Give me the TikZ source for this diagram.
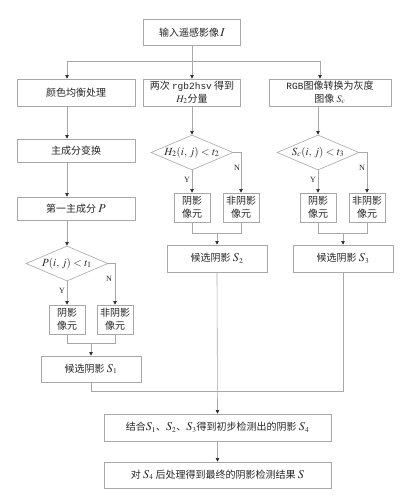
\documentclass[tikz,border=0pt]{standalone}
\usepackage{mathptmx}
\usepackage{fontspec}
\setmainfont{Liberation Serif}
\newfontfamily\cjk{Noto Sans CJK SC}
\setmonofont{Liberation Mono}
\usetikzlibrary{arrows.meta,shapes.geometric}
\definecolor{linegray}{HTML}{A8A8A8}
\definecolor{txt}{HTML}{262626}
\begin{document}
\begin{tikzpicture}[x=1pt,y=-1pt,
  line/.style={draw=linegray, line width=0.6pt},
  arr/.style={line, -{Triangle[width=3.4pt,length=3.6pt,fill=txt,color=txt]}},
  box/.style={draw=linegray, line width=0.6pt, inner sep=0pt, font=\cjk\fontsize{10}{13}\selectfont, text=txt, align=center},
  small/.style={box, minimum width=36pt, minimum height=29pt},
  dia/.style={diamond, draw=linegray, line width=0.6pt, inner sep=0pt, minimum width=82pt, minimum height=35pt, aspect=2.34},
  yn/.style={font=\fontsize{8}{9}\selectfont, text=txt, inner sep=0pt},
  dtext/.style={font=\fontsize{11}{12}\selectfont, text=txt, inner sep=0pt}
]
\useasboundingbox[fill=white] (0,0) rectangle (405,495);

% nodes
\node[box, minimum width=97pt, minimum height=26pt] (top) at (192,32.5) {输入遥感影像$\,\mbox{\large$I$}$};
\node[box, minimum width=118pt, minimum height=27pt] (bA) at (76,92.5) {颜色均衡处理};
\node[box, minimum width=97pt, minimum height=27pt] (bB) at (192,92.5) {两次 {\ttfamily\fontsize{9.5}{12}\selectfont rgb2hsv} 得到\\$H_2$分量};
\node[box, minimum width=122pt, minimum height=27pt] (bC) at (330,92.5) {{\ttfamily\fontsize{9.5}{12}\selectfont RGB}图像转换为灰度\\图像 $S_c$};
\node[box, minimum width=118pt, minimum height=23pt] (pca) at (76,150.5) {主成分变换};
\node[box, minimum width=118pt, minimum height=23pt] (pc1) at (76,208.5) {第一主成分 $\mbox{\large$P$}$};

\node[dia] (dA) at (67,263.5) {};
\node[dtext] (dAt) at (67,263.5) {$P(i,\,j)<t_1$};
\node[dia] (dB) at (192,152.5) {};
\node[dtext] (dBt) at (192,152.5) {$H_2(i,\,j)<t_2$};
\node[dia] (dC) at (318,152.5) {};
\node[dtext] (dCt) at (318,152.5) {$S_c(i,\,j)<t_3$};

\node[small] (sAy) at (67,319.5) {阴影\\像元};
\node[small] (sAn) at (115,319.5) {非阴影\\像元};
\node[small] (sBy) at (192,207.5) {阴影\\像元};
\node[small] (sBn) at (241,207.5) {非阴影\\像元};
\node[small] (sCy) at (318,207.5) {阴影\\像元};
\node[small] (sCn) at (367,207.5) {非阴影\\像元};

\node[box, minimum width=100pt, minimum height=26pt] (cA) at (91,369) {候选阴影 $\mbox{\large$S$}_1$};
\node[box, minimum width=100pt, minimum height=27pt] (cB) at (217,258.5) {候选阴影 $\mbox{\large$S$}_2$};
\node[box, minimum width=100pt, minimum height=27pt] (cC) at (343,258.5) {候选阴影 $\mbox{\large$S$}_3$};
\node[box, minimum width=227pt, minimum height=27pt] (comb) at (217.5,427.5) {结合$\mbox{\large$S$}_1$、$\mbox{\large$S$}_2$、$\mbox{\large$S$}_3$得到初步检测出的阴影 $\mbox{\large$S$}_4$};
\node[box, minimum width=227pt, minimum height=26pt] (final) at (217.5,475) {对 $\mbox{\large$S$}_4$ 后处理得到最终的阴影检测结果 $\mbox{\large$S$}$};

% Y / N labels
\node[yn] (yA) at (62,291) {Y};
\node[yn] (nA) at (109,279) {N};
\node[yn] (yB) at (187,180) {Y};
\node[yn] (nB) at (237,168) {N};
\node[yn] (yC) at (313,180) {Y};
\node[yn] (nC) at (362,168) {N};

% junction coordinates
\coordinate (j0) at (192,61);
\coordinate (jA) at (67,61);
\coordinate (jC) at (320,61);
\coordinate (mA) at (91,343);
\coordinate (mB) at (217,233);
\coordinate (mC) at (343,233);
\coordinate (mD) at (217,391);

% connectors
\draw[line] (top.south) -- (j0);
\draw[line] (jA) -- (jC);
\draw[arr] (jA) -- (bA.north -| jA);
\draw[arr] (j0) -- (bB.north);
\draw[arr] (jC) -- (bC.north -| jC);

\draw[arr] (bA.south -| dA.center) -- (pca.north -| dA.center);
\draw[arr] (pca.south -| dA.center) -- (pc1.north -| dA.center);
\draw[arr] (pc1.south -| dA.center) -- (dA.north);
\draw[arr] (bB.south) -- (dB.north);
\draw[arr] (bC.south -| dC.center) -- (dC.north);

\draw[arr] (dA.south) -- (sAy.north);
\draw[arr] (dA.east) -- (dA.east -| sAn.center) -- (sAn.north);
\draw[arr] (dB.south) -- (sBy.north);
\draw[arr] (dB.east) -- (dB.east -| sBn.center) -- (sBn.north);
\draw[arr] (dC.south) -- (sCy.north);
\draw[arr] (dC.east) -- (dC.east -| sCn.center) -- (sCn.north);

\draw[line] (sAy.south) -- (sAy.center |- mA) -- (sAn.center |- mA) -- (sAn.south);
\draw[arr] (mA) -- (cA.north);
\draw[line] (sBy.south) -- (sBy.center |- mB) -- (sBn.center |- mB) -- (sBn.south);
\draw[arr] (mB) -- (cB.north);
\draw[line] (sCy.south) -- (sCy.center |- mC) -- (sCn.center |- mC) -- (sCn.south);
\draw[arr] (mC) -- (cC.north);

\draw[line] (cA.south) -- (cA.south |- mD) -- (cC.center |- mD) -- (cC.south);
\draw[arr] (cB.south) -- (comb.north);
\draw[arr] (comb.south) -- (final.north);
\end{tikzpicture}
\end{document}
